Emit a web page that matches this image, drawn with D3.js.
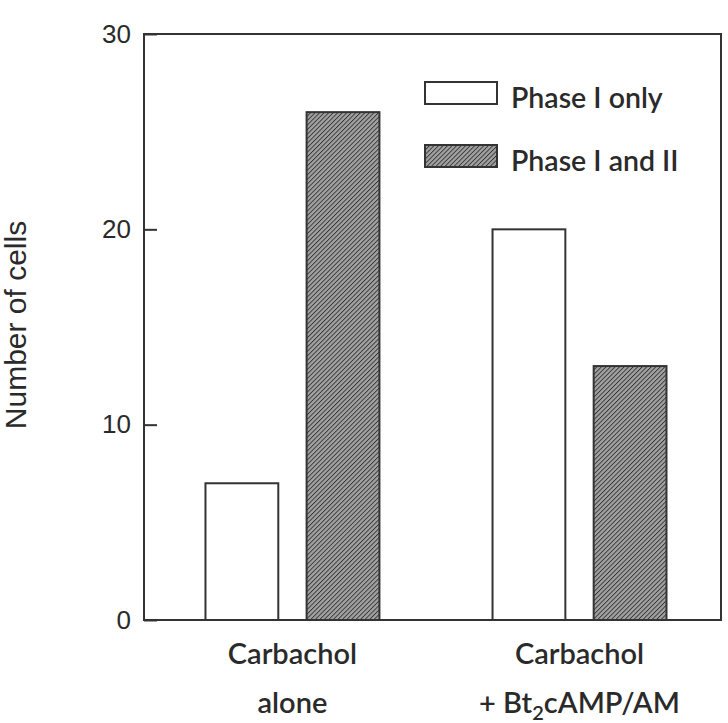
<!DOCTYPE html>
<html>
<head>
<meta charset="utf-8">
<script src="https://cdn.jsdelivr.net/npm/d3@7"></script>
<style>
  body { margin: 0; background: #fff; }
</style>
</head>
<body>
<div id="chart"></div>
<script>
// data
var groups = ["alone", "bt2"];
var series = ["Phase I only", "Phase I and II"];
var phaseOnly = [7, 20];
var phaseBoth = [26, 13];
var yTicks = [0, 10, 20, 30];

var chart_width = 728;
var chart_height = 723;
var plotLeft = 144, plotRight = 721, plotTop = 34, plotBottom = 620;

var svg = d3.select("#chart")
    .append("svg")
    .attr("width", chart_width)
    .attr("height", chart_height);

// hatch pattern for the phase I and II bars
var defs = svg.append("defs");
var pat = defs.append("pattern")
    .attr("id", "hatch")
    .attr("patternUnits", "userSpaceOnUse")
    .attr("width", 3.2)
    .attr("height", 3.2)
    .attr("patternTransform", "rotate(45)");
pat.append("rect").attr("width", 3.2).attr("height", 3.2).attr("fill", "#a2a2a2");
pat.append("line")
    .attr("x1", 0).attr("y1", 0).attr("x2", 0).attr("y2", 3.2)
    .attr("stroke", "#333")
    .attr("stroke-width", 1.8);

var y = d3.scaleLinear().domain([0, 30]).range([plotBottom, plotTop]);

var x0 = d3.scaleBand()
    .domain(groups)
    .range([plotLeft, plotRight])
    .paddingInner(0.394)
    .paddingOuter(0.202)
    .align(0.53);

var x1 = d3.scaleBand()
    .domain(series)
    .range([0, x0.bandwidth()])
    .paddingInner(0.28)
    .paddingOuter(0);

var rows = groups.map(function(g, i) {
    return { group: g, values: [
        { key: series[0], value: phaseOnly[i] },
        { key: series[1], value: phaseBoth[i] }
    ]};
});

var fillFor = function(key) {
    return key === series[0] ? "#fff" : "url(#hatch)";
};

// bars
svg.append("g").selectAll("g")
    .data(rows)
    .enter()
    .append("g")
    .attr("transform", function(d) { return "translate(" + x0(d.group) + ",0)"; })
    .selectAll("rect")
    .data(function(d) { return d.values; })
    .enter()
    .append("rect")
    .attr("x", function(d) { return x1(d.key); })
    .attr("y", function(d) { return y(d.value); })
    .attr("width", x1.bandwidth())
    .attr("height", function(d) { return plotBottom - y(d.value); })
    .attr("fill", function(d) { return fillFor(d.key); })
    .attr("stroke", "#333")
    .attr("stroke-width", 2);

// frame
svg.append("rect")
    .attr("x", plotLeft).attr("y", plotTop)
    .attr("width", plotRight - plotLeft).attr("height", plotBottom - plotTop)
    .attr("fill", "none")
    .attr("stroke", "#333")
    .attr("stroke-width", 2);

// y axis, ticks pointing inward
var yAxis = d3.axisLeft(y)
    .tickValues(yTicks)
    .tickSize(-13)
    .tickPadding(13)
    .tickFormat(d3.format("d"));

var ya = svg.append("g")
    .attr("transform", "translate(" + plotLeft + ",0)")
    .call(yAxis);
ya.select(".domain").remove();
ya.selectAll(".tick line").attr("stroke", "#333").attr("stroke-width", 2);
ya.selectAll(".tick text")
    .attr("fill", "#2a2a2a")
    .style("font-family", "Liberation Sans, Arial, sans-serif")
    .style("font-size", "26px");

svg.append("text")
    .attr("transform", "translate(26,325) rotate(-90)")
    .attr("text-anchor", "middle")
    .attr("fill", "#2a2a2a")
    .style("font-family", "Liberation Sans, Arial, sans-serif")
    .style("font-size", "30px")
    .text("Number of cells");

// category labels
var labelFont = "Lato, 'Open Sans', sans-serif";
var cats = svg.append("g")
    .attr("fill", "#2a2a2a")
    .style("font-family", labelFont)
    .style("font-size", "29px")
    .style("font-weight", "600")
    .attr("text-anchor", "middle");

cats.append("text")
    .attr("x", x0("alone") + x0.bandwidth() / 2)
    .attr("y", 664)
    .text("Carbachol");
cats.append("text")
    .attr("x", x0("alone") + x0.bandwidth() / 2)
    .attr("y", 713)
    .text("alone");
cats.append("text")
    .attr("x", x0("bt2") + x0.bandwidth() / 2)
    .attr("y", 664)
    .text("Carbachol");
var t2 = cats.append("text")
    .attr("x", x0("bt2") + x0.bandwidth() / 2)
    .attr("y", 713);
t2.append("tspan").text("+ Bt");
t2.append("tspan").attr("dy", 7).style("font-size", "20px").text("2");
t2.append("tspan").attr("dy", -7).text("cAMP/AM");

// legend
var legend = svg.append("g")
    .selectAll("g")
    .data(series)
    .enter()
    .append("g")
    .attr("transform", function(d, i) { return "translate(425," + (82 + i * 63) + ")"; });

legend.append("rect")
    .attr("width", 72)
    .attr("height", 22)
    .attr("fill", function(d) { return fillFor(d); })
    .attr("stroke", "#333")
    .attr("stroke-width", 2);

legend.append("text")
    .attr("x", 86)
    .attr("y", 26)
    .attr("fill", "#2a2a2a")
    .style("font-family", labelFont)
    .style("font-size", "28.5px")
    .style("font-weight", "600")
    .text(function(d) { return d; });
</script>
</body>
</html>
